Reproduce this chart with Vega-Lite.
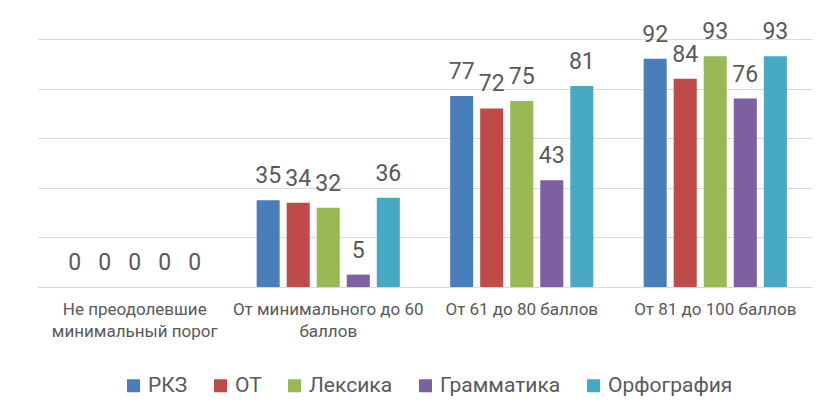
{
  "$schema": "https://vega.github.io/schema/vega-lite/v6.json",
  "width": 774,
  "height": 248,
  "autosize": {"type": "none"},
  "padding": {"left": 38, "top": 39, "right": 22, "bottom": 132},
  "background": "white",
  "config": {"view": {"stroke": null}, "font": "Roboto"},
  "data": {
    "values": [
      {"group": "Не преодолевшие минимальный порог", "series": "РКЗ", "value": 0},
      {"group": "Не преодолевшие минимальный порог", "series": "ОТ", "value": 0},
      {"group": "Не преодолевшие минимальный порог", "series": "Лексика", "value": 0},
      {"group": "Не преодолевшие минимальный порог", "series": "Грамматика", "value": 0},
      {"group": "Не преодолевшие минимальный порог", "series": "Орфография", "value": 0},
      {"group": "От минимального до 60 баллов", "series": "РКЗ", "value": 35},
      {"group": "От минимального до 60 баллов", "series": "ОТ", "value": 34},
      {"group": "От минимального до 60 баллов", "series": "Лексика", "value": 32},
      {"group": "От минимального до 60 баллов", "series": "Грамматика", "value": 5},
      {"group": "От минимального до 60 баллов", "series": "Орфография", "value": 36},
      {"group": "От 61 до 80 баллов", "series": "РКЗ", "value": 77},
      {"group": "От 61 до 80 баллов", "series": "ОТ", "value": 72},
      {"group": "От 61 до 80 баллов", "series": "Лексика", "value": 75},
      {"group": "От 61 до 80 баллов", "series": "Грамматика", "value": 43},
      {"group": "От 61 до 80 баллов", "series": "Орфография", "value": 81},
      {"group": "От 81 до 100 баллов", "series": "РКЗ", "value": 92},
      {"group": "От 81 до 100 баллов", "series": "ОТ", "value": 84},
      {"group": "От 81 до 100 баллов", "series": "Лексика", "value": 93},
      {"group": "От 81 до 100 баллов", "series": "Грамматика", "value": 76},
      {"group": "От 81 до 100 баллов", "series": "Орфография", "value": 93}
    ]
  },
  "encoding": {
    "x": {
      "field": "group",
      "type": "nominal",
      "sort": null,
      "scale": {"paddingInner": 0.26, "paddingOuter": 0.13},
      "axis": {
        "title": null,
        "labelAngle": 0,
        "ticks": false,
        "domainColor": "#d9d9d9",
        "labelColor": "#595959",
        "labelFontSize": 17,
        "labelPadding": 14,
        "labelLineHeight": 22,
        "labelLimit": 240,
        "labelExpr": "datum.value == 'Не преодолевшие минимальный порог' ? ['Не преодолевшие', 'минимальный порог'] : (datum.value == 'От минимального до 60 баллов' ? ['От минимального до 60', 'баллов'] : datum.value)"
      }
    },
    "xOffset": {
      "field": "series",
      "type": "nominal",
      "sort": ["РКЗ", "ОТ", "Лексика", "Грамматика", "Орфография"],
      "scale": {"paddingInner": 0.233, "paddingOuter": 0}
    },
    "y": {
      "field": "value",
      "type": "quantitative",
      "scale": {"domain": [0, 100], "nice": false},
      "axis": {
        "title": null,
        "values": [0, 20, 40, 60, 80, 100],
        "labels": false,
        "ticks": false,
        "domain": false,
        "gridColor": "#d9d9d9",
        "gridWidth": 1
      }
    }
  },
  "layer": [
    {
      "mark": {"type": "bar"},
      "encoding": {
        "color": {
          "field": "series",
          "type": "nominal",
          "sort": ["РКЗ", "ОТ", "Лексика", "Грамматика", "Орфография"],
          "scale": {
            "domain": ["РКЗ", "ОТ", "Лексика", "Грамматика", "Орфография"],
            "range": ["#4a7ebb", "#be4b48", "#98b954", "#7d60a0", "#46aac5"]
          },
          "legend": {
            "title": null,
            "orient": "none",
            "direction": "horizontal",
            "legendX": 85,
            "legendY": 336,
            "symbolType": "square",
            "symbolSize": 169,
            "symbolStrokeWidth": 0,
            "symbolOpacity": 1,
            "labelFontSize": 21,
            "labelColor": "#595959",
            "labelOffset": 4,
            "columnPadding": 22
          }
        }
      }
    },
    {
      "mark": {"type": "text", "baseline": "alphabetic", "dy": -17, "fontSize": 23, "color": "#595959"},
      "encoding": {
        "text": {"field": "value", "type": "quantitative"}
      }
    }
  ]
}
